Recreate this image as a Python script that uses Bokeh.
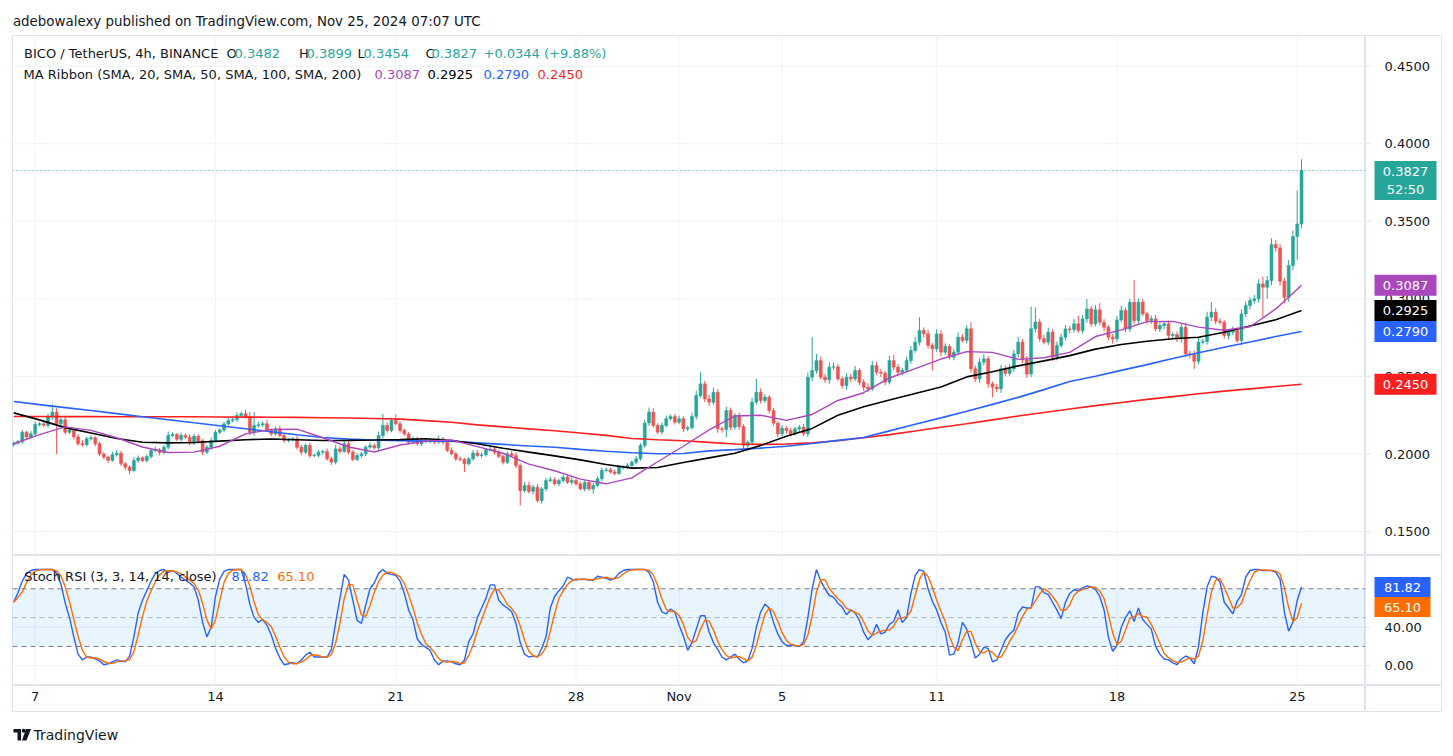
import numpy as np
import pandas as pd
from bokeh.plotting import figure
from bokeh.models import Range1d, ColumnDataSource, Span, BoxAnnotation
from bokeh.layouts import column, row
from bokeh.embed import file_html
from bokeh.resources import INLINE
from bokeh.core.properties import value

# ---------------- data ----------------
header_text = "adebowalexy published on TradingView.com, Nov 25, 2024 07:07 UTC"
symbol_text = "BICO / TetherUS, 4h, BINANCE"
change_text = "+0.0344 (+9.88%)"
ma_title = "MA Ribbon (SMA, 20, SMA, 50, SMA, 100, SMA, 200)"
stoch_title = "Stoch RSI (3, 3, 14, 14, close)"
countdown = "52:50"

first_open = 0.2060
# 4h closes, Oct 6 04:00 .. Nov 25 04:00, in units of 0.0001
close_e4 = [
    2070, 2080, 2140, 2110, 2130, 2190, 2195, 2185, 2240, 2270,
    2195, 2220, 2140, 2155, 2110, 2066, 2060, 2098, 2105, 2066,
    2000, 1980, 1960, 1996, 2005, 1937, 1915, 1894, 1958, 1975,
    1958, 1984, 2023, 2027, 2010, 2044, 2120, 2125, 2095, 2120,
    2108, 2070, 2115, 2085, 2012, 2044, 2087, 2140, 2155, 2194,
    2216, 2222, 2248, 2260, 2240, 2141, 2184, 2188, 2195, 2152,
    2130, 2162, 2119, 2087, 2092, 2098, 2044, 2012, 2055, 1990,
    1992, 2012, 2016, 1969, 1948, 2033, 2017, 2066, 2012, 1965,
    1990, 2001, 2044, 2055, 2040, 2119, 2184, 2152, 2216, 2195,
    2152, 2130, 2076, 2098, 2066, 2087, 2080, 2087, 2077, 2098,
    2076, 2023, 2001, 1969, 1965, 1937, 1969, 2006, 1991, 1995,
    2027, 2030, 2012, 1985, 1947, 2001, 1990, 1925, 1765, 1797,
    1760, 1786, 1700, 1775, 1829, 1834, 1808, 1829, 1851, 1818,
    1830, 1808, 1775, 1818, 1775, 1797, 1840, 1894, 1898, 1884,
    1875, 1915, 1918, 1926, 1947, 1969, 2055, 2200, 2270, 2184,
    2141, 2184, 2227, 2242, 2205, 2227, 2162, 2170, 2242, 2377,
    2452, 2355, 2334, 2398, 2162, 2158, 2280, 2173, 2248, 2177,
    2055, 2076, 2334, 2398, 2345, 2366, 2280, 2199, 2130, 2166,
    2151, 2130, 2162, 2173, 2130, 2495, 2538, 2602, 2495, 2478,
    2560, 2562, 2484, 2441, 2495, 2484, 2538, 2463, 2431, 2420,
    2570, 2527, 2521, 2463, 2602, 2560, 2527, 2540, 2602, 2667,
    2721, 2796, 2775, 2700, 2678, 2774, 2656, 2693, 2624, 2656,
    2753, 2732, 2807, 2549, 2484, 2592, 2613, 2452, 2431, 2420,
    2549, 2520, 2549, 2645, 2721, 2607, 2516, 2807, 2850, 2743,
    2721, 2785, 2624, 2700, 2753, 2806, 2802, 2839, 2796, 2871,
    2935, 2839, 2929, 2849, 2817, 2753, 2742, 2864, 2925, 2806,
    2978, 2860, 2978, 2903, 2860, 2871, 2806, 2828, 2839, 2763,
    2770, 2742, 2817, 2645, 2641, 2598, 2721, 2725, 2882, 2914,
    2856, 2849, 2763, 2785, 2796, 2731, 2903, 2957, 2989, 3000,
    3096, 3075, 3118, 3350, 3328, 3114, 3010, 3215, 3401, 3482,
    3827,
]
# upper / lower wick lengths, units of 0.0001
upper_wick_e4 = [
    10, 12, 15, 10, 18, 20, 12, 15, 22, 50, 25, 15, 18, 12, 15, 20, 25, 12, 15, 10,
    15, 12, 10, 18, 20, 15, 10, 12, 20, 15, 10, 12, 15, 20, 12, 15, 25, 15, 10, 18,
    12, 20, 15, 10, 12, 15, 20, 15, 10, 12, 18, 15, 20, 14, 25, 30, 86, 20, 15, 25,
    12, 15, 20, 15, 10, 12, 20, 15, 12, 18, 10, 15, 12, 20, 15, 25, 18, 20, 15, 12,
    15, 10, 12, 20, 15, 25, 75, 20, 18, 40, 15, 12, 10, 15, 12, 18, 10, 12, 15, 20,
    12, 15, 20, 12, 15, 10, 12, 18, 20, 15, 12, 20, 15, 12, 10, 15, 18, 20, 15, 22,
    25, 15, 20, 12, 18, 20, 15, 12, 15, 18, 20, 12, 15, 10, 12, 18, 15, 20, 15, 12,
    15, 12, 10, 15, 12, 18, 15, 20, 30, 25, 15, 18, 20, 12, 15, 20, 15, 12, 25, 30,
    75, 20, 25, 30, 20, 15, 25, 20, 15, 20, 15, 12, 30, 86, 25, 20, 15, 18, 12, 20,
    15, 18, 12, 15, 20, 30, 215, 43, 25, 20, 30, 30, 20, 15, 25, 20, 30, 15, 20, 25,
    30, 25, 20, 15, 30, 35, 20, 15, 25, 30, 35, 86, 20, 25, 15, 30, 25, 20, 15, 20,
    30, 20, 25, 43, 20, 25, 30, 20, 15, 20, 25, 20, 30, 25, 32, 20, 25, 143, 96, 20,
    25, 30, 20, 25, 20, 25, 20, 30, 53, 25, 64, 20, 30, 43, 20, 15, 20, 25, 30, 20,
    22, 144, 25, 20, 15, 20, 25, 20, 18, 20, 15, 20, 25, 30, 20, 25, 30, 20, 35, 64,
    25, 20, 15, 20, 25, 20, 30, 25, 20, 25, 30, 48, 30, 40, 30, 25, 20, 35, 40, 216, 72,
]
lower_wick_e4 = [
    12, 10, 15, 12, 10, 15, 12, 10, 15, 20, 195, 12, 15, 10, 18, 12, 15, 10, 12, 15,
    12, 15, 18, 10, 12, 15, 20, 24, 12, 15, 10, 12, 15, 10, 20, 12, 15, 10, 12, 15,
    10, 15, 12, 15, 20, 12, 15, 10, 12, 15, 10, 12, 15, 10, 12, 20, 22, 15, 12, 10,
    15, 12, 10, 15, 12, 10, 15, 20, 12, 15, 10, 12, 15, 12, 18, 15, 12, 10, 15, 12,
    10, 12, 15, 10, 12, 15, 20, 15, 12, 10, 15, 12, 15, 10, 12, 15, 10, 12, 15, 10,
    15, 12, 10, 15, 12, 54, 10, 12, 10, 15, 12, 10, 15, 12, 15, 12, 10, 15, 97, 12,
    15, 20, 12, 20, 15, 12, 10, 15, 12, 10, 15, 12, 10, 15, 12, 30, 10, 15, 12, 10,
    12, 10, 15, 12, 10, 15, 12, 15, 20, 15, 12, 15, 12, 10, 15, 12, 20, 15, 12, 20,
    15, 20, 25, 15, 25, 20, 50, 20, 15, 20, 20, 35, 20, 15, 20, 15, 20, 15, 20, 15,
    20, 15, 12, 20, 15, 20, 25, 20, 15, 20, 25, 20, 15, 20, 25, 20, 15, 20, 25, 20,
    15, 20, 25, 20, 15, 20, 25, 20, 15, 20, 15, 20, 25, 20, 140, 20, 25, 20, 15, 20,
    20, 15, 20, 25, 20, 25, 20, 25, 65, 20, 25, 20, 15, 20, 25, 20, 25, 20, 25, 20,
    15, 20, 25, 20, 15, 20, 25, 20, 15, 20, 25, 20, 15, 20, 25, 20, 30, 20, 15, 20,
    20, 25, 20, 15, 25, 20, 15, 20, 25, 20, 15, 20, 25, 20, 25, 49, 20, 15, 20, 25,
    20, 15, 20, 25, 20, 15, 30, 20, 25, 20, 25, 193, 75, 30, 25, 30, 40, 30, 30, 150, 28,
]

# moving averages read every 6 candles (one point per day)
ma_step = 6
ma20 = [0.2066, 0.2125, 0.2175, 0.2152, 0.2105, 0.2045, 0.2010, 0.2012, 0.2050, 0.2130,
        0.2158, 0.2160, 0.2105, 0.2045, 0.2013, 0.2058, 0.2083, 0.2090, 0.2048, 0.2005,
        0.1935, 0.1892, 0.1838, 0.1808, 0.1846, 0.1950, 0.2050, 0.2155, 0.2245, 0.2250,
        0.2217, 0.2255, 0.2345, 0.2395, 0.2490, 0.2550, 0.2612, 0.2660, 0.2655, 0.2610,
        0.2620, 0.2655, 0.2757, 0.2800, 0.2853, 0.2855, 0.2818, 0.2798, 0.2820, 0.2935,
        0.3087]
ma50 = [0.2265, 0.2220, 0.2170, 0.2135, 0.2100, 0.2076, 0.2072, 0.2074, 0.2083, 0.2092,
        0.2097, 0.2092, 0.2087, 0.2088, 0.2090, 0.2093, 0.2098, 0.2087, 0.2066, 0.2037,
        0.2012, 0.1988, 0.1962, 0.1932, 0.1909, 0.1913, 0.1945, 0.1975, 0.2005, 0.2055,
        0.2115, 0.2165, 0.2250, 0.2305, 0.2348, 0.2390, 0.2432, 0.2497, 0.2530, 0.2568,
        0.2600, 0.2634, 0.2676, 0.2706, 0.2727, 0.2743, 0.2752, 0.2785, 0.2825, 0.2865,
        0.2925]
ma100 = [0.2338, 0.2318, 0.2299, 0.2280, 0.2260, 0.2240, 0.2221, 0.2201, 0.2182, 0.2163,
         0.2143, 0.2124, 0.2106, 0.2096, 0.2090, 0.2086, 0.2083, 0.2082, 0.2072, 0.2062,
         0.2052, 0.2044, 0.2030, 0.2018, 0.2008, 0.2002, 0.2003, 0.2020, 0.2028, 0.2038,
         0.2050, 0.2068, 0.2088, 0.2106, 0.2149, 0.2192, 0.2233, 0.2276, 0.2320, 0.2365,
         0.2415, 0.2467, 0.2501, 0.2539, 0.2576, 0.2615, 0.2653, 0.2688, 0.2722, 0.2757,
         0.2790]
ma200 = [0.2242, 0.2242, 0.2241, 0.2241, 0.2240, 0.2240, 0.2240, 0.2240, 0.2239, 0.2238,
         0.2237, 0.2236, 0.2234, 0.2232, 0.2229, 0.2225, 0.2215, 0.2205, 0.2188, 0.2175,
         0.2162, 0.2150, 0.2135, 0.2120, 0.2100, 0.2092, 0.2085, 0.2075, 0.2065, 0.2062,
         0.2065, 0.2072, 0.2085, 0.2105, 0.2125, 0.2148, 0.2172, 0.2195, 0.2220, 0.2245,
         0.2268, 0.2290, 0.2312, 0.2332, 0.2352, 0.2370, 0.2388, 0.2405, 0.2420, 0.2435,
         0.2450]

# Stoch RSI %K per candle (%D = 3-period SMA of %K)
stoch_k = [
    66, 76, 88, 96, 99, 100, 100, 100, 100, 100,
    96, 85, 65, 50, 30, 12, 6, 9, 9, 7,
    5, 1, 2, 4, 6, 5, 4, 10, 30, 55,
    68, 78, 88, 96, 99, 100, 97, 99, 96, 92,
    89, 86, 82, 68, 45, 30, 40, 72, 90, 98,
    100, 100, 100, 100, 85, 64, 50, 45, 48, 42,
    32, 18, 8, 1, 2, 3, 2, 6, 11, 14,
    9, 9, 9, 9, 17, 45, 70, 95, 89, 68,
    47, 44, 63, 80, 86, 96, 100, 96, 95, 94,
    88, 75, 58, 48, 28, 22, 19, 16, 6, 1,
    5, 5, 4, 2, 1, 6, 25, 33, 50, 60,
    70, 84, 84, 68, 63, 60, 56, 44, 24, 12,
    9, 10, 9, 18, 30, 60, 72, 78, 83, 92,
    90, 89, 90, 90, 89, 89, 93, 92, 91, 89,
    91, 96, 99, 100, 100, 100, 100, 100, 97, 87,
    66, 56, 54, 59, 56, 42, 31, 16, 24, 38,
    52, 52, 35, 24, 17, 9, 6, 9, 12, 7,
    3, 5, 18, 40, 56, 64, 60, 45, 33, 25,
    21, 21, 21, 20, 25, 50, 80, 100, 88, 80,
    73, 71, 65, 61, 53, 58, 55, 47, 35, 27,
    32, 43, 33, 35, 43, 46, 58, 45, 50, 75,
    94, 100, 98, 80, 67, 58, 45, 35, 11, 12,
    24, 45, 38, 24, 8, 12, 19, 18, 4, 6,
    16, 27, 33, 37, 55, 61, 60, 60, 82, 82,
    76, 74, 66, 58, 49, 66, 75, 79, 78, 81,
    83, 82, 79, 72, 58, 30, 15, 21, 40, 50,
    57, 46, 60, 48, 43, 38, 20, 12, 7, 6,
    3, 1, 7, 10, 8, 2, 20, 55, 82, 93,
    92, 87, 66, 60, 54, 67, 74, 92, 99, 100,
    100, 99, 99, 99, 97, 90, 56, 36, 45.47, 68,
    81.82,
]

date_tick_idx = [5, 47, 89, 131, 155, 179, 215, 257, 299]
date_tick_labels = ["7", "14", "21", "28", "Nov", "5", "11", "18", "25"]
price_ticks = [0.15, 0.20, 0.25, 0.30, 0.35, 0.40, 0.45]
stoch_ticks = [0, 40]

# ---------------- styling ----------------
FONT = "DejaVu Sans"
TXT = "#131722"
UP, DOWN = "#26a69a", "#ef5350"
C20, C50, C100, C200 = "#ab47bc", "#000000", "#2962ff", "#ff1f1f"
KCOL, DCOL = "#2962ff", "#ff6d00"
GRID = "#f0f3fa"
BORDER = "#e0e3eb"

FW, AXW, PH, SH, TH, HH, FH = 1353, 76, 520, 130, 27, 35, 40
LB, RB = 12, 10
X0, X1 = -0.28, 314.9
PY0, PY1 = 0.1346, 0.4697
SY0, SY1 = -20.6, 114.6

# ---------------- derived series ----------------
close = np.array(close_e4) / 1e4
open_ = np.concatenate([[first_open], close[:-1]])
high = np.maximum(open_, close) + np.array(upper_wick_e4) / 1e4
low = np.minimum(open_, close) - np.array(lower_wick_e4) / 1e4
idx = np.arange(len(close))
cols = np.where(close >= open_, UP, DOWN)
ma_idx = np.arange(len(ma20)) * ma_step
k = np.array(stoch_k, dtype=float)
d = pd.Series(k).rolling(3, min_periods=1).mean().to_numpy()


def mk(w, h, xr, yr, left=0, right=0, outline=True):
    f = figure(width=w, height=h, x_range=xr, y_range=yr, toolbar_location=None,
               output_backend="svg", x_axis_location=None, y_axis_location=None,
               min_border_left=left, min_border_right=right,
               min_border_top=0, min_border_bottom=0)
    f.xgrid.visible = False
    f.ygrid.visible = False
    f.outline_line_color = BORDER if outline else None
    f.background_fill_color = "white"
    f.border_fill_color = "white"
    return f


def txt(fig, xs, ys, texts, colors, size="13px", align="left", px=True, style="normal"):
    src = ColumnDataSource(dict(x=list(xs), y=list(ys), t=list(texts), c=list(colors)))
    kw = dict(x_range_name="px", y_range_name="px") if px else {}
    fig.text(x="x", y="y", text="t", text_color="c", source=src,
             text_font=value(FONT), text_font_size=value(size), text_font_style=style,
             text_align=align, text_baseline="middle", **kw)


xr = Range1d(X0, X1)

# ---------------- main price panel ----------------
main = mk(LB + FW, PH, xr, Range1d(PY0, PY1), left=LB)
main.extra_x_ranges = {"px": Range1d(0, FW)}
main.extra_y_ranges = {"px": Range1d(PH, 0)}
for t in date_tick_idx:
    main.add_layout(Span(location=t, dimension="height", line_color=GRID, line_width=1, level="underlay"))
for t in price_ticks:
    main.add_layout(Span(location=t, dimension="width", line_color=GRID, line_width=1, level="underlay"))

src = ColumnDataSource(dict(i=idx, h=high, l=low, top=np.maximum(open_, close),
                            bot=np.minimum(open_, close), col=cols))
main.segment("i", "l", "i", "h", color="col", line_width=1, source=src)
main.vbar(x="i", width=0.68, top="top", bottom="bot", fill_color="col",
          line_color="col", line_width=0.6, source=src)

main.line(ma_idx, ma200, line_color=C200, line_width=1.6)
main.line(ma_idx, ma100, line_color=C100, line_width=1.6)
main.line(ma_idx, ma50, line_color=C50, line_width=1.6)
main.line(ma_idx, ma20, line_color=C20, line_width=1.4)

main.add_layout(Span(location=close[-1], dimension="width", line_color=UP,
                     line_width=1, line_dash="1 3"))

txt(main,
    [11.6, 214, 222, 286.5, 294, 345, 351, 413, 419, 471],
    [18] * 10,
    [symbol_text, "O", f"{open_[-1]:.4f}", "H", f"{high[-1]:.4f}", "L", f"{low[-1]:.4f}",
     "C", f"{close[-1]:.4f}", change_text],
    [TXT, TXT, UP, TXT, UP, TXT, UP, TXT, UP, UP])
txt(main,
    [11, 362, 415, 471, 525],
    [39] * 5,
    [ma_title, f"{ma20[-1]:.4f}", f"{ma50[-1]:.4f}", f"{ma100[-1]:.4f}", f"{ma200[-1]:.4f}"],
    [TXT, C20, C50, C100, C200])

# ---------------- price axis panel ----------------
ax1 = mk(AXW + RB, PH, Range1d(0, AXW), Range1d(PH, 0), right=RB)


def ypx(p):
    return (PY1 - p) / (PY1 - PY0) * PH


ax1.segment([0] * len(price_ticks), [ypx(t) for t in price_ticks],
            [5] * len(price_ticks), [ypx(t) for t in price_ticks], line_color=BORDER)
txt(ax1, [19] * len(price_ticks), [ypx(t) for t in price_ticks],
    [f"{t:.4f}" for t in price_ticks], [TXT] * len(price_ticks), px=False)

ma_last = [ma20[-1], ma50[-1], ma100[-1], ma200[-1]]
ma_cols = [C20, C50, C100, C200]
ax1.rect(x=[40] * 4, y=[ypx(v) for v in ma_last], width=62, height=21,
         fill_color=ma_cols, line_color=None)
txt(ax1, [40] * 4, [ypx(v) + 0.5 for v in ma_last], [f"{v:.4f}" for v in ma_last],
    ["white"] * 4, align="center", px=False)
cy = ypx(close[-1])
ax1.quad(left=9, right=71, top=cy - 9.5, bottom=cy + 29.5, fill_color=UP, line_color=None)
txt(ax1, [40, 40], [cy + 1, cy + 19], [f"{close[-1]:.4f}", countdown], ["white", "white"],
    align="center", px=False)

# ---------------- stoch RSI panel ----------------
st = mk(LB + FW, SH, xr, Range1d(SY0, SY1), left=LB)
st.extra_x_ranges = {"px": Range1d(0, FW)}
st.extra_y_ranges = {"px": Range1d(SH, 0)}
for t in date_tick_idx:
    st.add_layout(Span(location=t, dimension="height", line_color=GRID, line_width=1, level="underlay"))
for t in stoch_ticks:
    st.add_layout(Span(location=t, dimension="width", line_color=GRID, line_width=1, level="underlay"))
st.add_layout(BoxAnnotation(bottom=20, top=80, fill_color="#2196f3", fill_alpha=0.1,
                            line_alpha=0, level="underlay"))
st.add_layout(Span(location=80, dimension="width", line_color="#787b86", line_width=1, line_dash="5 4"))
st.add_layout(Span(location=20, dimension="width", line_color="#787b86", line_width=1, line_dash="5 4"))
st.add_layout(Span(location=50, dimension="width", line_color="#787b86", line_alpha=0.5,
                   line_width=1, line_dash="5 4"))
st.line(idx, k, line_color=KCOL, line_width=1.4)
st.line(idx, d, line_color=DCOL, line_width=1.4)
txt(st, [11.8, 219, 264.7], [21, 21, 21],
    [stoch_title, f"{k[-1]:.2f}", f"{d[-1]:.2f}"], [TXT, KCOL, DCOL])

ax2 = mk(AXW + RB, SH, Range1d(0, AXW), Range1d(SH, 0), right=RB)


def spx(v):
    return (SY1 - v) / (SY1 - SY0) * SH


ax2.segment([0] * 2, [spx(t) for t in stoch_ticks], [5] * 2, [spx(t) for t in stoch_ticks],
            line_color=BORDER)
txt(ax2, [19] * 2, [spx(t) for t in stoch_ticks], [f"{t:.2f}" for t in stoch_ticks],
    [TXT] * 2, px=False)
ky = spx(k[-1])
dy = max(spx(d[-1]), ky + 20)
ax2.rect(x=[37, 37], y=[ky, dy], width=56, height=20, fill_color=[KCOL, DCOL], line_color=None)
txt(ax2, [37, 37], [ky + 0.5, dy + 0.5], [f"{k[-1]:.2f}", f"{d[-1]:.2f}"], ["white", "white"],
    align="center", px=False)

# ---------------- time axis ----------------
tf = mk(LB + FW, TH, xr, Range1d(TH, 0), left=LB)
txt(tf, date_tick_idx, [11] * len(date_tick_idx), date_tick_labels,
    [TXT] * len(date_tick_idx), align="center", px=False)
corner = mk(AXW + RB, TH, Range1d(0, AXW), Range1d(TH, 0), right=RB)

# ---------------- header / footer ----------------
TOT = LB + FW + AXW + RB
hd = mk(TOT, HH, Range1d(0, TOT), Range1d(HH, 0), outline=False)
txt(hd, [12.4], [20.7], [header_text], [TXT], size="13.4px", px=False)

ft = mk(TOT, FH, Range1d(0, TOT), Range1d(FH, 0), outline=False)
ft.quad(left=[13, 17], right=[20.5, 20.5], top=[16.5, 16.5], bottom=[20, 28], fill_color=TXT, line_color=None)
ft.scatter([23.2], [18.2], size=4, fill_color=TXT, line_color=None)
ft.patch([25.5, 30.5, 26.0, 21.5], [16.5, 16.5, 28, 28], fill_color=TXT, line_color=None)
txt(ft, [33], [22], ["TradingView"], [TXT], size="14px", px=False)

layout = column(hd, row(main, ax1), row(st, ax2), row(tf, corner), ft)
open("out.html", "w").write(file_html(layout, INLINE))
